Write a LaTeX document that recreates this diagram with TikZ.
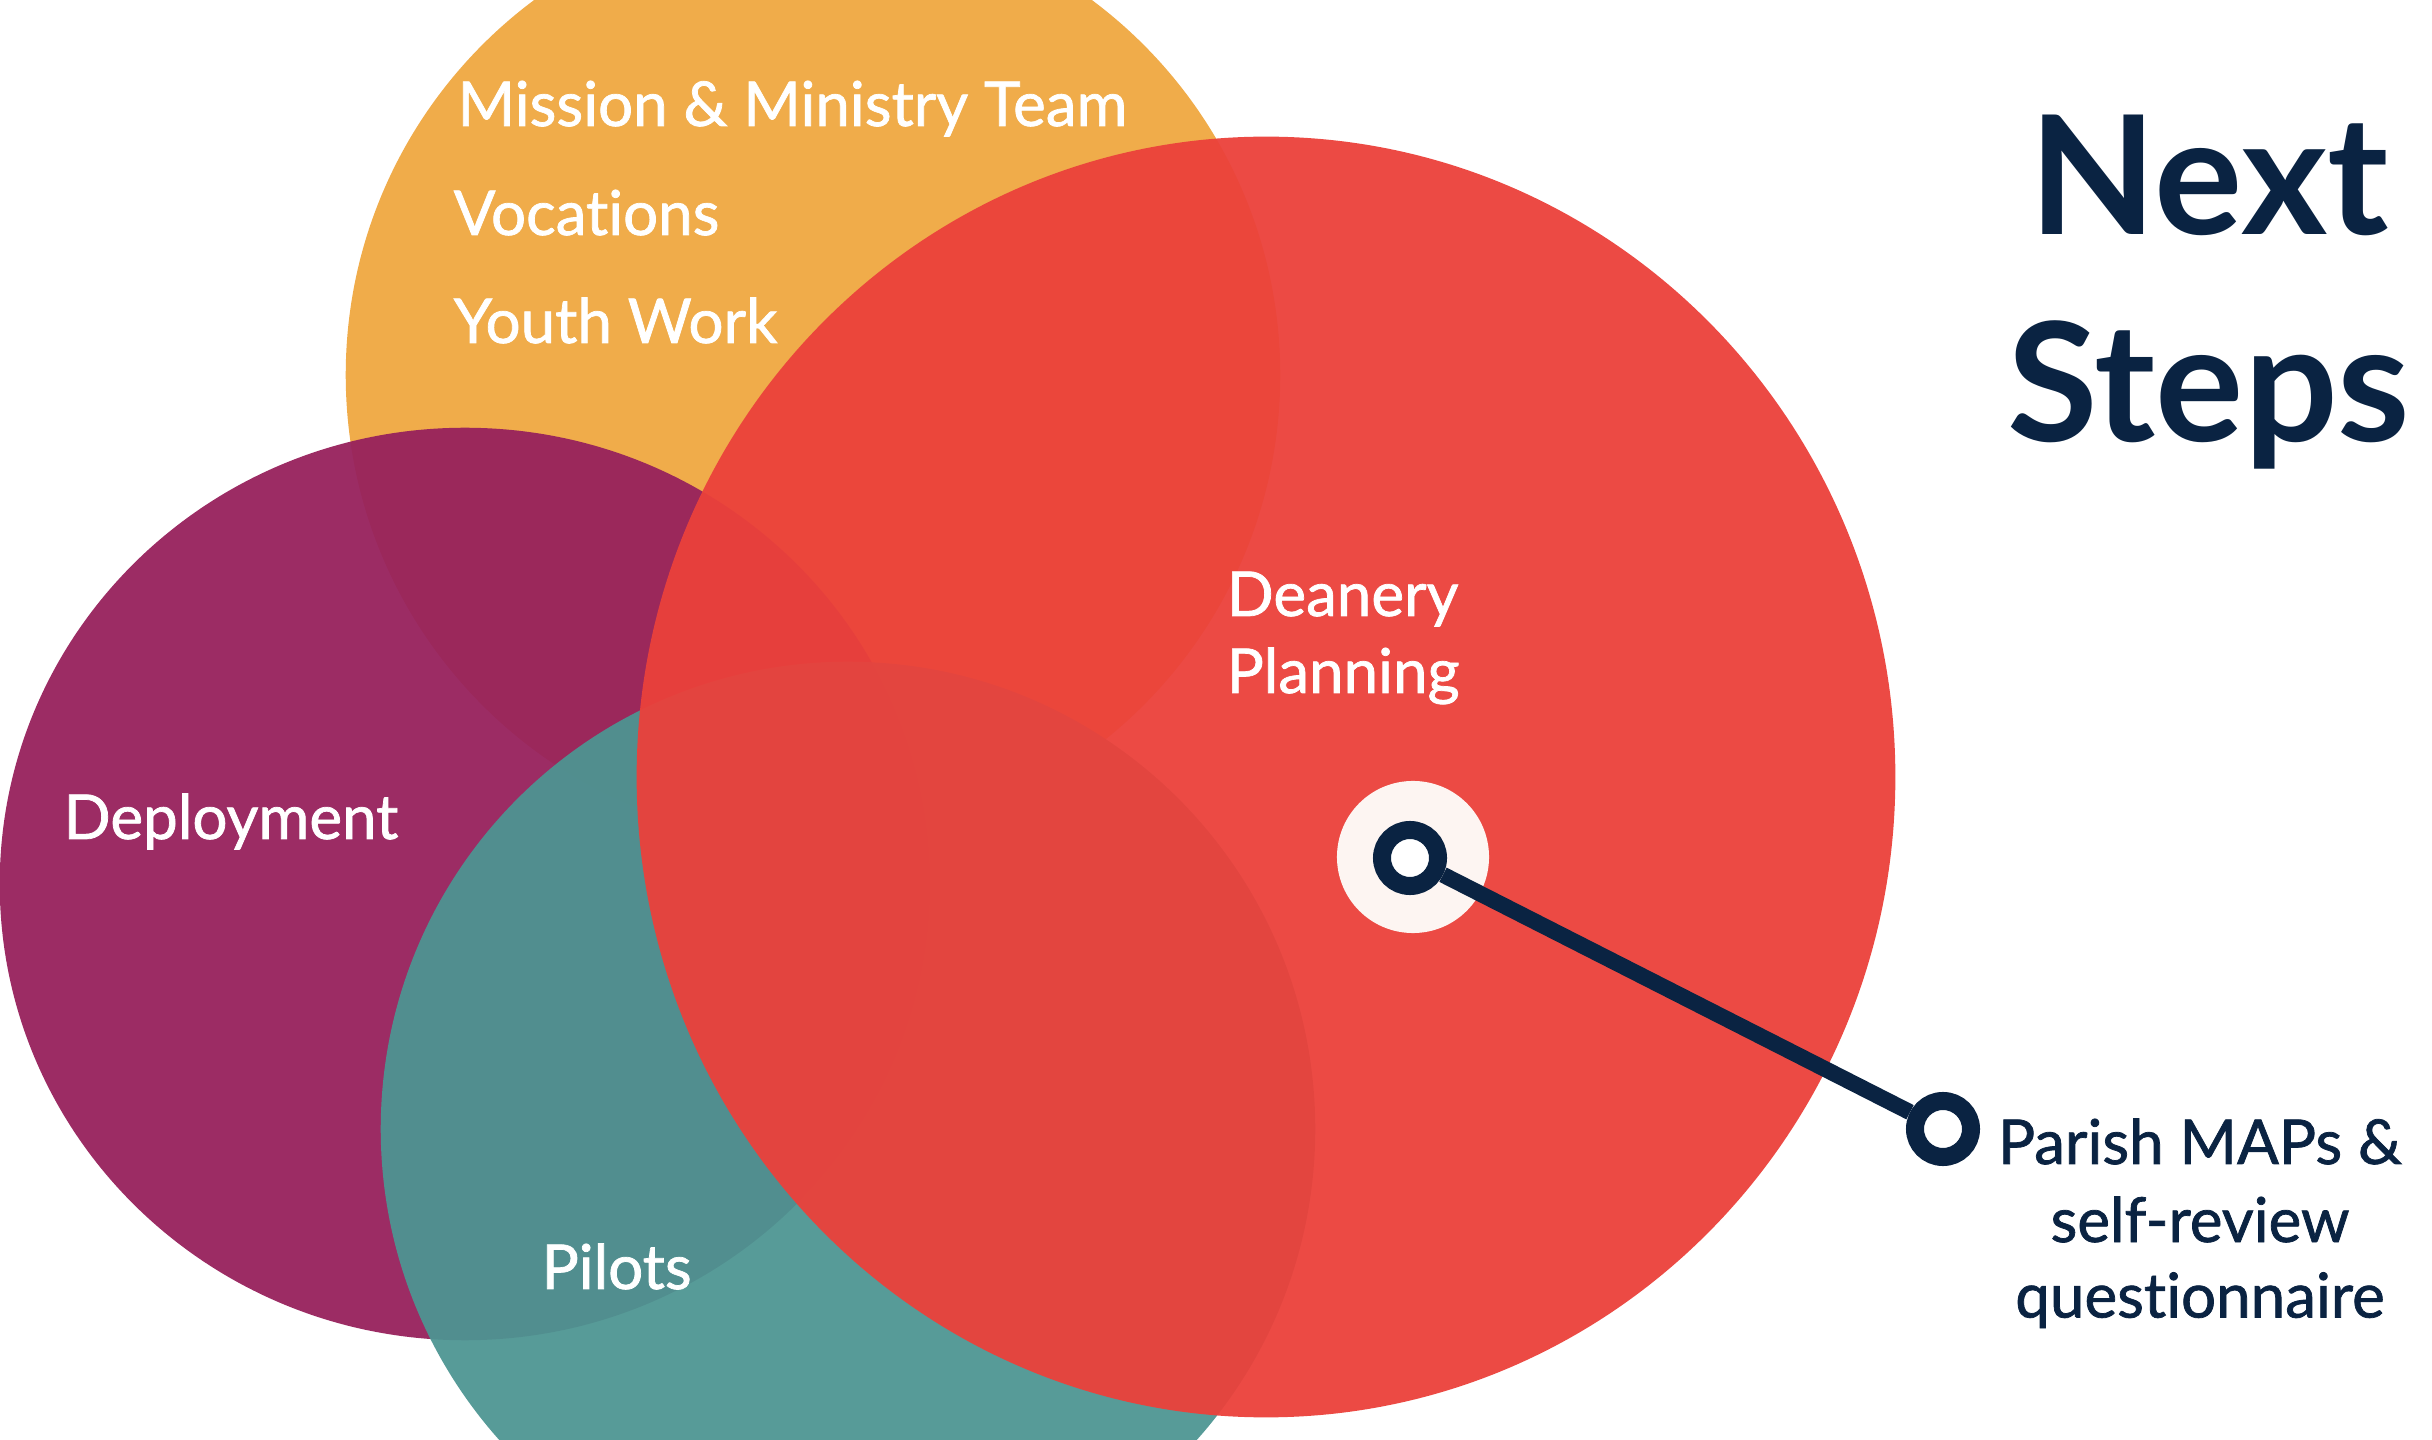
\documentclass[tikz,border=0pt]{standalone}
\usepackage{fontspec}
\setmainfont[Ligatures=NoCommon]{Lato}
\newfontfamily\labelfont[FakeBold=1.2, Ligatures=NoCommon]{Lato}
\usetikzlibrary{shapes.geometric}
\definecolor{orangec}{HTML}{F0AC4A}
\definecolor{purplec}{HTML}{97215C}
\definecolor{tealc}{HTML}{4D9592}
\definecolor{redc}{HTML}{EB413B}
\definecolor{navy}{HTML}{0A2342}
\definecolor{cream}{HTML}{FDF5F2}
\begin{document}
\begin{tikzpicture}[x=0.01cm,y=-0.01cm,
  blob/.style={ellipse, inner sep=0pt, draw=none},
  lbl/.style={anchor=base west, inner sep=0pt, text=white, font=\labelfont\fontsize{17.6pt}{22pt}\selectfont},
  navylbl/.style={anchor=base, inner sep=0pt, text=navy, font=\labelfont\fontsize{17.6pt}{22pt}\selectfont},
  title/.style={anchor=base, inner sep=0pt, text=navy, font=\fontsize{47pt}{56pt}\selectfont\bfseries},
  ring/.style={circle, inner sep=0pt, minimum size=0.56cm, line width=0.18cm, draw=navy, fill=white}]
\useasboundingbox (0,0) rectangle (2432,1440);
\clip (0,0) rectangle (2432,1440);
\fill[white] (0,0) rectangle (2432,1440);
% circles
\node[blob, fill=orangec, minimum width=9.34cm, minimum height=9.34cm] (orange) at (813,375) {};
\node[blob, fill=purplec, fill opacity=0.95, minimum width=9.3cm, minimum height=9.12cm] (purple) at (465,884) {};
\node[blob, fill=tealc, fill opacity=0.94, minimum width=9.34cm, minimum height=9.34cm] (teal) at (848,1129) {};
\node[blob, fill=redc, fill opacity=0.95, minimum width=12.58cm, minimum height=12.8cm] (red) at (1266,777) {};
% labels
\node[lbl] (mission) at (457,126) {Mission \& Ministry Team};
\node[lbl] (voc) at (453,235) {Vocations};
\node[lbl] (youth) at (453,343) {Youth Work};
\node[lbl] (deploy) at (63,839) {Deployment};
\node[lbl] (pilots) at (541,1289) {Pilots};
\node[lbl] (dean1) at (1226,616) {Deanery};
\node[lbl] (dean2) at (1226,693) {Planning};
% title
\node[title] (next) at (2209,235) {Next};
\node[title] (steps) at (2209,441.5) {Steps};
% marker
\node[circle, fill=cream, inner sep=0pt, minimum size=1.52cm] (halo) at (1413,857) {};
\node[ring] (r1) at (1410,858) {};
\node[ring] (r2) at (1943,1129) {};
\draw[navy, line width=0.16cm] (r1) -- (r2);
% callout text
\node[navylbl] (p1) at (2200,1164) {Parish MAPs \&};
\node[navylbl] (p2) at (2200,1242) {self-review};
\node[navylbl] (p3) at (2200,1317.5) {questionnaire};
\end{tikzpicture}
\end{document}
